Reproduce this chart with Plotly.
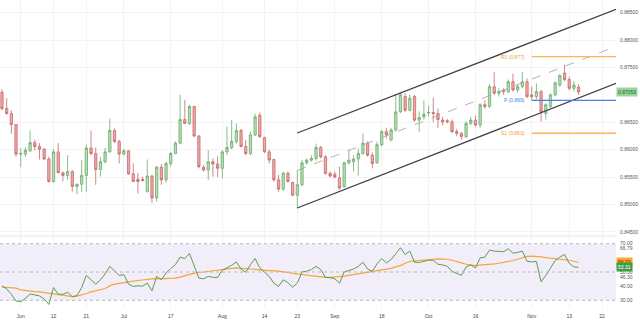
import plotly.graph_objects as go
import pandas as pd

# ---------------- data ----------------
start_date, end_date, axis_end = "2023-05-26", "2023-11-15", "2023-11-30"

open_ = [0.8705,0.8675,0.8666,0.8646,0.8592,0.8592,0.8598,0.8613,0.8606,0.8601,
         0.8583,0.8542,0.8596,0.8558,0.8553,0.8560,0.8533,0.8537,0.8553,0.8603,
         0.8593,0.8564,0.8578,0.8596,0.8635,0.8615,0.8592,0.8598,0.8556,0.8546,
         0.8546,0.8523,0.8552,0.8512,0.8568,0.8545,0.8575,0.8593,0.8612,0.8655,
         0.8648,0.8679,0.8625,0.8568,0.8563,0.8578,0.8574,0.8566,0.8596,0.8604,
         0.8615,0.8635,0.8606,0.8593,0.8627,0.8663,0.8622,0.8596,0.8582,0.8545,
         0.8528,0.8557,0.8540,0.8517,0.8536,0.8576,0.8581,0.8584,0.8604,0.8587,
         0.8557,0.8555,0.8549,0.8533,0.8576,0.8578,0.8583,0.8593,0.8612,0.8590,
         0.8576,0.8609,0.8633,0.8618,0.8636,0.8669,0.8697,0.8672,0.8697,0.8654,
         0.8660,0.8667,0.8668,0.8666,0.8654,0.8653,0.8651,0.8633,0.8630,0.8624,
         0.8648,0.8654,0.8645,0.8682,0.8679,0.8715,0.8703,0.8709,0.8706,0.8724,
         0.8709,0.8715,0.8724,0.8700,0.8697,0.8706,0.8666,0.8679,0.8700,0.8718,
         0.8740,0.8728,0.8712,0.8714]
high = [0.8710,0.8694,0.8672,0.8647,0.8603,0.8604,0.8635,0.8618,0.8612,0.8603,
        0.8587,0.8601,0.8612,0.8560,0.8590,0.8563,0.8538,0.8581,0.8609,0.8635,
        0.8604,0.8587,0.8603,0.8657,0.8639,0.8618,0.8601,0.8599,0.8575,0.8557,
        0.8551,0.8582,0.8554,0.8570,0.8574,0.8578,0.8596,0.8615,0.8700,0.8691,
        0.8682,0.8680,0.8627,0.8572,0.8599,0.8584,0.8588,0.8599,0.8642,0.8654,
        0.8648,0.8638,0.8618,0.8633,0.8666,0.8668,0.8624,0.8600,0.8584,0.8554,
        0.8560,0.8560,0.8542,0.8563,0.8581,0.8584,0.8590,0.8611,0.8607,0.8590,
        0.8560,0.8560,0.8569,0.8578,0.8600,0.8590,0.8602,0.8630,0.8615,0.8595,
        0.8615,0.8636,0.8640,0.8640,0.8700,0.8703,0.8703,0.8700,0.8700,0.8670,
        0.8690,0.8680,0.8695,0.8675,0.8660,0.8656,0.8655,0.8638,0.8632,0.8652,
        0.8660,0.8662,0.8685,0.8690,0.8720,0.8742,0.8712,0.8712,0.8728,0.8739,
        0.8720,0.8742,0.8730,0.8715,0.8721,0.8709,0.8685,0.8703,0.8725,0.8738,
        0.8755,0.8733,0.8725,0.8720]
low = [0.8672,0.8664,0.8629,0.8587,0.8568,0.8587,0.8596,0.8599,0.8582,0.8581,
       0.8540,0.8540,0.8557,0.8542,0.8545,0.8523,0.8519,0.8523,0.8523,0.8590,
       0.8536,0.8551,0.8575,0.8595,0.8612,0.8575,0.8590,0.8554,0.8542,0.8520,
       0.8542,0.8523,0.8503,0.8505,0.8536,0.8540,0.8570,0.8592,0.8610,0.8648,
       0.8645,0.8623,0.8566,0.8560,0.8545,0.8551,0.8550,0.8548,0.8590,0.8601,
       0.8610,0.8604,0.8590,0.8590,0.8625,0.8621,0.8594,0.8575,0.8542,0.8523,
       0.8525,0.8540,0.8515,0.8493,0.8533,0.8573,0.8578,0.8580,0.8584,0.8554,
       0.8549,0.8548,0.8527,0.8530,0.8573,0.8560,0.8553,0.8591,0.8587,0.8566,
       0.8574,0.8606,0.8620,0.8615,0.8633,0.8667,0.8669,0.8670,0.8651,0.8632,
       0.8655,0.8660,0.8650,0.8640,0.8645,0.8648,0.8630,0.8625,0.8618,0.8621,
       0.8645,0.8642,0.8640,0.8675,0.8676,0.8700,0.8697,0.8700,0.8703,0.8706,
       0.8704,0.8712,0.8694,0.8690,0.8692,0.8651,0.8655,0.8676,0.8697,0.8714,
       0.8725,0.8708,0.8706,0.8700]
close = [0.8675,0.8666,0.8646,0.8592,0.8593,0.8599,0.8613,0.8606,0.8601,0.8583,
         0.8542,0.8596,0.8558,0.8553,0.8560,0.8533,0.8537,0.8553,0.8603,0.8593,
         0.8564,0.8578,0.8596,0.8635,0.8615,0.8592,0.8598,0.8556,0.8542,0.8542,
         0.8544,0.8552,0.8512,0.8568,0.8545,0.8575,0.8593,0.8612,0.8655,0.8648,
         0.8679,0.8625,0.8569,0.8563,0.8578,0.8574,0.8566,0.8596,0.8604,0.8615,
         0.8635,0.8606,0.8593,0.8627,0.8660,0.8624,0.8596,0.8581,0.8545,0.8528,
         0.8557,0.8542,0.8517,0.8536,0.8576,0.8581,0.8584,0.8604,0.8587,0.8557,
         0.8552,0.8550,0.8530,0.8576,0.8581,0.8583,0.8593,0.8612,0.8590,0.8575,
         0.8609,0.8633,0.8627,0.8636,0.8669,0.8700,0.8672,0.8694,0.8654,0.8659,
         0.8665,0.8668,0.8666,0.8655,0.8651,0.8651,0.8633,0.8630,0.8624,0.8648,
         0.8654,0.8645,0.8682,0.8679,0.8715,0.8703,0.8706,0.8706,0.8724,0.8709,
         0.8715,0.8724,0.8697,0.8697,0.8706,0.8669,0.8682,0.8700,0.8722,0.8735,
         0.8728,0.8712,0.8718,0.87053]

rsi = [40.2,38.1,34.3,29.5,29.0,31.4,34.5,33.8,33.1,31.0,27.1,39.0,34.3,34.3,35.7,
       32.6,33.3,39.0,47.6,44.5,41.4,44.5,48.6,54.0,51.0,47.6,48.1,41.4,39.8,40.2,
       40.0,42.1,36.7,46.9,44.5,49.3,52.4,55.2,60.5,59.5,63.1,54.0,45.7,45.2,46.9,
       46.2,46.2,51.2,52.9,54.8,57.1,52.1,49.8,55.2,59.5,52.9,49.8,46.9,42.1,39.8,
       44.5,42.4,39.3,42.1,50.0,50.5,51.7,54.0,51.7,46.2,46.0,45.2,42.1,50.0,51.0,
       52.1,54.0,56.9,52.1,50.5,55.7,59.5,56.4,58.8,62.9,67.1,62.4,64.8,56.9,56.7,
       57.6,58.3,58.3,55.5,55.0,54.0,50.5,49.3,47.6,53.6,55.0,52.9,60.0,60.5,65.5,
       64.8,64.5,64.3,66.4,63.3,63.8,64.8,57.6,57.1,57.5,43.0,47.5,53.0,58.0,60.5,
       62.4,56.2,53.6,53.31]
rsi_ma = [39.3,39.2,39.0,38.6,37.4,36.9,36.7,36.2,36.0,35.5,35.0,34.5,33.8,33.3,33.1,
          32.6,32.9,33.6,34.8,36.0,36.7,37.4,38.3,40.2,41.4,41.9,42.6,43.3,43.6,44.0,
          44.5,45.0,45.2,45.2,45.2,45.2,45.5,45.7,46.4,47.6,48.3,49.0,49.8,50.0,50.5,
          51.0,51.4,51.9,52.1,52.6,52.9,52.6,52.1,51.9,51.7,51.2,51.1,51.0,51.0,50.7,
          50.2,49.8,49.0,48.6,47.9,47.6,47.4,47.1,46.2,46.2,46.2,46.4,46.7,47.1,47.6,
          48.1,48.6,49.3,50.0,50.2,50.7,51.2,51.9,52.6,53.6,54.5,56.2,57.4,57.9,58.3,
          58.6,58.8,59.0,59.3,59.3,59.0,58.3,57.6,56.4,55.5,54.8,54.5,54.8,55.0,55.5,
          55.7,56.2,56.7,57.4,58.1,59.0,60.2,61.0,61.2,61.2,60.7,60.2,59.8,59.5,59.3,
          59.0,58.3,57.6,56.73]

tick_dates = ["2023-06-01","2023-06-12","2023-06-21","2023-07-03","2023-07-17",
              "2023-08-01","2023-08-14","2023-08-23","2023-09-04","2023-09-18",
              "2023-10-02","2023-10-16","2023-11-01","2023-11-13","2023-11-22"]
tick_labels = ["Jun","12","21","Jul","17","Aug","14","23","Sep","18","Oct","16",
               "Nov","13","22"]

price_ticks = [0.885,0.880,0.875,0.865,0.860,0.855,0.850,0.845]
rsi_ticks = [70,66.79,50,46.30,40,30]

# channel (drawn trend lines) anchored on dates
channel_dates = ["2023-08-23", "2023-11-27"]
upper_channel = [0.86305, 0.88562]
lower_channel = [0.84936, 0.87212]
mid_channel = [0.85621, 0.87887]

pivot_start, pivot_end = "2023-11-01", "2023-11-27"
pivots = {"R1": 0.877, "P": 0.869, "S1": 0.863}
last_price = 0.87053

# ---------------- build ----------------
dates = pd.bdate_range(start_date, end_date)
axis_dates = pd.bdate_range(start_date, axis_end)
pos = lambda d: int(axis_dates.get_loc(pd.Timestamp(d)))
xs = list(range(len(dates)))
tickvals = [pos(d) for d in tick_dates]

GREEN_LINE, GREEN_FILL = "#6fa86f", "#b3e0b3"
RED_LINE, RED_FILL = "#c46a6a", "#f4a7a7"
ORANGE = "#ffb45c"
BLUE = "#4a7ef0"
TXT = "#555555"
FONT = "Liberation Sans, Arial, sans-serif"

fig = go.Figure()
fig.add_trace(go.Candlestick(
    x=xs, open=open_, high=high, low=low, close=close,
    increasing=dict(line=dict(color=GREEN_LINE, width=0.8), fillcolor=GREEN_FILL),
    decreasing=dict(line=dict(color=RED_LINE, width=0.8), fillcolor=RED_FILL),
    whiskerwidth=0, xaxis="x", yaxis="y", showlegend=False))

fig.add_trace(go.Scatter(x=xs, y=rsi_ma, mode="lines",
                         line=dict(color="#f7a43a", width=1.2),
                         xaxis="x2", yaxis="y2", showlegend=False))
fig.add_trace(go.Scatter(x=xs, y=rsi, mode="lines",
                         line=dict(color="#5c9e4c", width=1),
                         xaxis="x2", yaxis="y2", showlegend=False))

cx = [pos(d) for d in channel_dates]
for ys, dash, col in [(upper_channel, "solid", "#3d3d45"),
                      (lower_channel, "solid", "#3d3d45"),
                      (mid_channel, "dash", "#a8a8a8")]:
    fig.add_shape(type="line", x0=cx[0], x1=cx[1], y0=ys[0], y1=ys[1],
                  xref="x", yref="y",
                  line=dict(color=col, width=1.3 if dash == "solid" else 0.9, dash=dash))

p0, p1 = pos(pivot_start), pos(pivot_end)
for name, val in pivots.items():
    col = BLUE if name == "P" else ORANGE
    fig.add_shape(type="line", x0=p0, x1=p1, y0=val, y1=val, xref="x", yref="y",
                  line=dict(color=col, width=1.3))
    fig.add_annotation(x=p0 - 0.9, y=val, xref="x", yref="y", text=f"{name} ({val:.3f})",
                       showarrow=False, xanchor="right", yanchor="middle",
                       font=dict(size=5, color="#f59a3a" if name != "P" else BLUE,
                                 family=FONT))

# RSI band + levels
fig.add_shape(type="rect", xref="x2 domain", yref="y2", x0=0, x1=1, y0=30, y1=70,
              fillcolor="#f1eef9", line=dict(width=0), layer="below")
for lv in [70, 50, 30]:
    fig.add_shape(type="line", xref="x2 domain", yref="y2", x0=0, x1=1, y0=lv, y1=lv,
                  line=dict(color="#b8b8c0", width=1, dash="3px,3px"))

SPLIT = 1 - 236 / 308
fig.add_shape(type="line", xref="paper", yref="paper", x0=0, x1=1, y0=SPLIT, y1=SPLIT,
              line=dict(color="#e6e6e6", width=1))

# value boxes
def box(y, yref, text, bg, fg):
    fig.add_annotation(x=1, y=y, xref="paper", yref=yref, text=text, showarrow=False,
                       xanchor="left", yanchor="middle", xshift=0,
                       bgcolor=bg, borderpad=1, font=dict(size=5, color=fg, family=FONT))

box(last_price, "y", f"{last_price:.5f}", "#98d69a", "#245c26")
box(rsi_ma[-1], "y2", f"{rsi_ma[-1]:.2f}", "#ffa52e", "#5a3500")
box(rsi[-1], "y2", f"{rsi[-1]:.2f}", "#3f9d46", "#ffffff")

xr = [-0.42, 130.98]
grid = "#f3f3f3"
fig.update_layout(
    width=640, height=323, margin=dict(l=0, r=24, t=0, b=15),
    paper_bgcolor="white", plot_bgcolor="white",
    font=dict(family=FONT, size=5, color=TXT),
    xaxis=dict(domain=[0, 1], anchor="y", range=xr, tickvals=tickvals, ticktext=tick_labels,
               showticklabels=False, showgrid=True, gridcolor=grid, zeroline=False,
               rangeslider=dict(visible=False), fixedrange=True),
    xaxis2=dict(domain=[0, 1], anchor="y2", matches="x", range=xr, tickvals=tickvals,
                ticktext=tick_labels, showgrid=True, gridcolor=grid, zeroline=False,
                ticks="", ticklabelstandoff=4, tickfont=dict(size=5, color="#444")),
    yaxis=dict(domain=[SPLIT, 1], anchor="x", side="right", range=[0.84425, 0.88732],
               tickvals=price_ticks, ticktext=[f"{v:.5f}" for v in price_ticks],
               showgrid=True, gridcolor=grid, zeroline=False, ticks="",
               ticklabelstandoff=3, tickfont=dict(size=5, color=TXT)),
    yaxis2=dict(domain=[0, SPLIT], anchor="x2", side="right", range=[24.56, 75.44],
                tickvals=rsi_ticks, ticktext=[f"{v:.2f}" for v in rsi_ticks],
                showgrid=False, zeroline=False, ticks="", ticklabelstandoff=3,
                tickfont=dict(size=5, color=TXT)),
)

fig.write_html("out.html")
